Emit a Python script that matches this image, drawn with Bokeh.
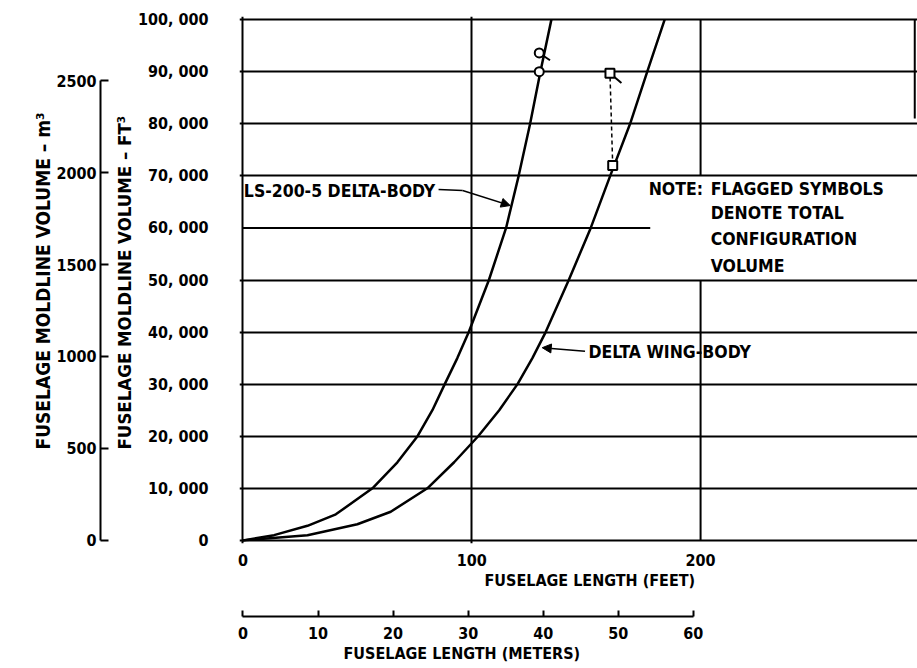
from bokeh.plotting import figure
from bokeh.models import Range1d, LinearAxis, FixedTicker, Arrow, NormalHead, Title
from bokeh.core.properties import value
from bokeh.embed import file_html
from bokeh.resources import INLINE

FT_PER_M = 3.28084
FT3_PER_M3 = 35.3147
FONT = "'Liberation Sans Narrow', 'DejaVu Sans Condensed', 'Roboto'"

# ---- data ----
db_len = [0, 13.6, 28.2, 40.6, 56.6, 67.5, 76.3, 82.8, 88.2, 93.7, 98.7, 107.5, 115,
          120.5, 125.5, 130, 134.8]
db_vol = [0, 1000, 2800, 5000, 10000, 15000, 20000, 25000, 30000, 35000, 40000, 50000,
          60000, 70000, 80000, 90000, 100000]

dwb_len = [0, 28.2, 50, 64.6, 80.6, 92.3, 102.8, 112, 120, 126.5, 132.3, 142.4, 152,
           160.5, 169.2, 176.7, 184.3]
dwb_vol = [0, 1000, 3100, 5500, 10000, 15000, 20000, 25000, 30000, 35000, 40000, 50000,
           60000, 70000, 80000, 90000, 100000]

db_sym_len = [129.5]
db_sym_vol = [90000]
db_flag_len = [129.5]
db_flag_vol = [93600]

dwb_sym_len = [161.6]
dwb_sym_vol = [72000]
dwb_flag_len = [160.4]
dwb_flag_vol = [89700]

ft3_ticks = [0, 10000, 20000, 30000, 40000, 50000, 60000, 70000, 80000, 90000, 100000]
ft3_labels = ["0", "10, 000", "20, 000", "30, 000", "40, 000", "50, 000", "60, 000",
              "70, 000", "80, 000", "90, 000", "100, 000"]
m3_ticks = [0, 500, 1000, 1500, 2000, 2500]
ft_ticks = [0, 100, 200]
m_ticks = [0, 10, 20, 30, 40, 50, 60]

grid_h = [0, 10000, 20000, 30000, 40000, 50000, 70000, 80000, 90000, 100000]
grid_v = [0, 100]

X0, X1 = -1.5, 294.8
Y0, Y1 = -600, 100600

p = figure(width=917, height=668, x_range=Range1d(X0, X1), y_range=Range1d(Y0, Y1),
           output_backend="svg", toolbar_location=None,
           min_border_left=239, min_border_right=0, min_border_top=16, min_border_bottom=125)
p.outline_line_color = None
p.extra_y_ranges = {"m3": Range1d(Y0 / FT3_PER_M3, Y1 / FT3_PER_M3)}
p.extra_x_ranges = {"m": Range1d(X0 / FT_PER_M, X1 / FT_PER_M)}


def style(ax, size="16px"):
    ax.major_label_text_font = FONT
    ax.major_label_text_font_style = "bold"
    ax.major_label_text_font_size = size
    ax.major_label_text_color = "black"
    ax.minor_tick_line_color = None
    ax.axis_line_color = "black"
    ax.axis_line_width = 2
    ax.major_tick_line_color = "black"
    ax.major_tick_line_width = 2


def spacer(size, at):
    return LinearAxis(ticker=FixedTicker(ticks=[at]), major_tick_out=size, major_tick_in=0,
                      axis_line_color=None, major_tick_line_color="white",
                      major_label_overrides={at: ""}, major_label_standoff=0,
                      minor_tick_line_color=None)


def title(text, offset, standoff, size):
    return Title(text=text, align="left", offset=offset, standoff=standoff,
                 text_font=FONT, text_font_style="bold", text_font_size=size,
                 text_color="black")


# grid
p.xgrid.ticker = FixedTicker(ticks=grid_v)
p.ygrid.ticker = FixedTicker(ticks=grid_h)
for g in (p.xgrid[0], p.ygrid[0]):
    g.grid_line_color = "black"
    g.grid_line_width = 2
    g.grid_line_alpha = 1

# partial grid lines
p.segment(x0=[0], y0=[60000], x1=[178], y1=[60000], line_color="black", line_width=2)
p.segment(x0=[200, 200], y0=[100000, 50000], x1=[200, 200], y1=[70000, 0],
          line_color="black", line_width=2)
p.segment(x0=[293.6], y0=[81000], x1=[293.6], y1=[100000], line_color="black", line_width=2)

# ---- left side: ft3 axis, its title, gap, m3 axis, its title ----
yax = p.left[0]
style(yax)
yax.ticker = FixedTicker(ticks=ft3_ticks)
yax.major_label_overrides = {t: l for t, l in zip(ft3_ticks, ft3_labels)}
yax.axis_line_color = None
yax.major_tick_line_color = None
yax.major_tick_in = 0
yax.major_tick_out = 0
yax.major_label_standoff = 31

p.add_layout(title("FUSELAGE MOLDLINE VOLUME \u2013 FT\u00b3", 94, 0, "18.5px"), "left")
p.add_layout(spacer(11, Y0), "left")

m3ax = LinearAxis(y_range_name="m3", ticker=FixedTicker(ticks=m3_ticks), bounds=(0, 2500))
style(m3ax)
m3ax.major_tick_in = 8
m3ax.major_tick_out = 0
m3ax.major_label_standoff = 4
p.add_layout(m3ax, "left")
p.add_layout(title("FUSELAGE MOLDLINE VOLUME \u2013 m\u00b3", 94, 0, "19px"), "left")

# ---- bottom: ft axis, its title, gap, m axis, its title ----
xax = p.below[0]
style(xax)
xax.ticker = FixedTicker(ticks=ft_ticks)
xax.axis_line_color = None
xax.major_tick_line_color = None
xax.major_tick_in = 0
xax.major_tick_out = 0
xax.major_label_standoff = 10

p.add_layout(title("FUSELAGE LENGTH (FEET)", 245, 0, "16px"), "below")
p.add_layout(spacer(27, X0), "below")

max_ = LinearAxis(x_range_name="m", ticker=FixedTicker(ticks=m_ticks), bounds=(0, 60))
style(max_)
max_.major_tick_in = 6
max_.major_tick_out = 0
max_.major_label_standoff = 10
p.add_layout(max_, "below")
p.add_layout(title("FUSELAGE LENGTH (METERS)", 104, 1, "16px"), "below")

# curves
p.line(db_len, db_vol, line_color="black", line_width=2.5)
p.line(dwb_len, dwb_vol, line_color="black", line_width=2.5)

# symbols
p.line([dwb_sym_len[0], dwb_flag_len[0]], [dwb_sym_vol[0], dwb_flag_vol[0]],
       line_color="black", line_width=1.5, line_dash="4 3")
p.ray(x=db_flag_len, y=db_flag_vol, length=13, angle=-0.6, length_units="screen",
      line_color="black", line_width=2)
p.ray(x=dwb_flag_len, y=dwb_flag_vol, length=15, angle=-0.7, length_units="screen",
      line_color="black", line_width=2)
p.scatter(db_sym_len + db_flag_len, db_sym_vol + db_flag_vol, marker="circle", size=9,
          fill_color="white", line_color="black", line_width=2)
p.scatter(dwb_sym_len + dwb_flag_len, dwb_sym_vol + dwb_flag_vol, marker="square", size=9,
          fill_color="white", line_color="black", line_width=2)

# labels
txt = dict(text_font=value(FONT), text_font_style="bold", text_font_size="17.5px",
           text_baseline="middle", text_align="left", text_color="black")
p.text(x=[0.4], y=[67000], text=["LS-200-5 DELTA-BODY"], **txt)
p.line([85.5, 96], [67400, 67200], line_color="black", line_width=1.5)
p.add_layout(Arrow(end=NormalHead(size=9, fill_color="black", line_color="black"),
                   x_start=96, y_start=67200, x_end=116.8, y_end=64300,
                   line_color="black", line_width=1.5))

p.text(x=[151], y=[36100], text=["DELTA WING-BODY"], **txt)
p.add_layout(Arrow(end=NormalHead(size=9, fill_color="black", line_color="black"),
                   x_start=149.5, y_start=36300, x_end=130.8, y_end=37000,
                   line_color="black", line_width=1.5))

p.text(x=[177.3], y=[67500], text=["NOTE:"], **txt)
p.text(x=[204.4, 204.4, 204.4, 204.4], y=[67500, 62900, 57900, 52700],
       text=["FLAGGED SYMBOLS", "DENOTE TOTAL", "CONFIGURATION", "VOLUME"], **txt)

open("out.html", "w").write(file_html(p, INLINE))
